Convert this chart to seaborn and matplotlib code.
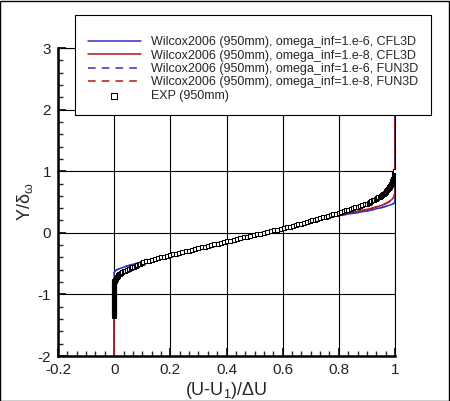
import numpy as np
import pandas as pd
import seaborn as sns
import matplotlib.pyplot as plt
from matplotlib.ticker import AutoMinorLocator
from matplotlib.patches import Rectangle


# omega_inf = 1.e-6 profile (CFL3D and FUN3D lie on top of each other)
blue_y = [-2.0, -0.65, -0.62, -0.60, -0.58, -0.56, -0.54, -0.52, -0.50, -0.48,
          -0.45, -0.42, -0.38, -0.34, -0.30, -0.25, -0.20, -0.15, -0.10, -0.05,
          0.00, 0.05, 0.10, 0.15, 0.20, 0.25, 0.28, 0.32, 0.35, 0.38,
          0.41, 0.44, 0.46, 0.48, 0.50, 3.0]
blue_u = [0.0, 0.0, 0.003, 0.010, 0.020, 0.033, 0.046, 0.060, 0.076, 0.093,
          0.122, 0.153, 0.195, 0.237, 0.280, 0.330, 0.380, 0.425, 0.465, 0.505,
          0.545, 0.590, 0.635, 0.680, 0.715, 0.765, 0.800, 0.855, 0.895, 0.925,
          0.952, 0.975, 0.988, 0.997, 1.0, 1.0]

# omega_inf = 1.e-8 profile
red_y = [-2.0, -0.78, -0.74, -0.70, -0.66, -0.62, -0.58, -0.54, -0.50, -0.46,
         -0.42, -0.38, -0.34, -0.30, -0.25, -0.20, -0.15, -0.10, -0.05, 0.00,
         0.05, 0.10, 0.15, 0.20, 0.25, 0.30, 0.35, 0.40, 0.45, 0.50,
         0.55, 0.60, 0.65, 3.0]
red_u = [0.0, 0.0, 0.004, 0.012, 0.025, 0.040, 0.058, 0.080, 0.105, 0.135,
         0.168, 0.202, 0.238, 0.275, 0.322, 0.370, 0.417, 0.462, 0.505, 0.548,
         0.592, 0.636, 0.680, 0.724, 0.768, 0.815, 0.870, 0.920, 0.955, 0.978,
         0.991, 0.997, 1.0, 1.0]

# experiment, 950mm station
exp_y = [-1.3500, -1.3375, -1.3250, -1.3125, -1.3000, -1.2875, -1.2750, -1.2625,
         -1.2500, -1.2375, -1.2250, -1.2125, -1.2000, -1.1875, -1.1750, -1.1625,
         -1.1500, -1.1375, -1.1250, -1.1125, -1.1000, -1.0875, -1.0750, -1.0625,
         -1.0500, -1.0375, -1.0250, -1.0125, -1.0000, -0.9875, -0.9750, -0.9625,
         -0.9500, -0.9375, -0.9250, -0.9125, -0.9000, -0.8875, -0.8750, -0.8625,
         -0.8500, -0.8375, -0.8250, -0.8125, -0.8000, -0.7875, -0.7750, -0.7625,
         -0.7500, -0.7375, -0.7250, -0.7125, -0.7000, -0.6875, -0.6750, -0.6625,
         -0.6500, -0.6375, -0.6250, -0.6125, -0.6000, -0.5875, -0.5750, -0.5625,
         -0.5500, -0.5375, -0.5250, -0.5125, -0.5000, -0.4875, -0.4750, -0.4625,
         -0.4500, -0.4375, -0.4250, -0.4125, -0.4000, -0.3875, -0.3750, -0.3625,
         -0.3500, -0.3375, -0.3250, -0.3125, -0.3000, -0.2875, -0.2750, -0.2625,
         -0.2500, -0.2375, -0.2250, -0.2125, -0.2000, -0.1875, -0.1750, -0.1625,
         -0.1500, -0.1375, -0.1250, -0.1125, -0.1000, -0.0875, -0.0750, -0.0625,
         -0.0500, -0.0375, -0.0250, -0.0125, 0.0000, 0.0125, 0.0250, 0.0375,
         0.0500, 0.0625, 0.0750, 0.0875, 0.1000, 0.1125, 0.1250, 0.1375,
         0.1500, 0.1625, 0.1750, 0.1875, 0.2000, 0.2125, 0.2250, 0.2375,
         0.2500, 0.2625, 0.2750, 0.2875, 0.3000, 0.3125, 0.3250, 0.3375,
         0.3500, 0.3625, 0.3750, 0.3875, 0.4000, 0.4125, 0.4250, 0.4375,
         0.4500, 0.4625, 0.4750, 0.4875, 0.5000, 0.5125, 0.5250, 0.5375,
         0.5500, 0.5625, 0.5750, 0.5875, 0.6000, 0.6125, 0.6250, 0.6375,
         0.6500, 0.6625, 0.6750, 0.6875, 0.7000, 0.7125, 0.7250, 0.7375,
         0.7500, 0.7625, 0.7750, 0.7875, 0.8000, 0.8125, 0.8250, 0.8375,
         0.8500, 0.8625, 0.8750, 0.8875, 0.9000, 0.9125, 0.9250, 0.9375,
         0.9500, 0.9625, 0.9750, 0.9875, 1.0000]
exp_u = [0.0, 0.0, 0.0, 0.0, 0.0, 0.0, 0.0, 0.0,
         0.0, 0.0, 0.0, 0.0, 0.0, 0.0, 0.0, 0.0,
         0.0, 0.0, 0.0, 0.0, 0.0, 0.0, 0.0, 0.0,
         0.0, 0.0, 0.0, 0.0, 0.0, 0.0, 0.0, 0.0,
         0.0, 0.0, 0.0, 0.0, 0.0, 0.0, 0.0, 0.0,
         0.0, 0.0, 0.0, 0.0, 0.0, 0.001, 0.002, 0.003,
         0.005, 0.007, 0.009, 0.011, 0.013, 0.015, 0.017, 0.020,
         0.024, 0.029, 0.034, 0.040, 0.046, 0.052, 0.059, 0.065,
         0.071, 0.076, 0.082, 0.087, 0.092, 0.098, 0.104, 0.114,
         0.124, 0.134, 0.145, 0.155, 0.166, 0.176, 0.187, 0.198,
         0.209, 0.220, 0.232, 0.243, 0.255, 0.266, 0.277, 0.289,
         0.300, 0.311, 0.323, 0.334, 0.345, 0.357, 0.368, 0.380,
         0.391, 0.402, 0.414, 0.425, 0.437, 0.449, 0.461, 0.473,
         0.485, 0.497, 0.509, 0.521, 0.533, 0.545, 0.557, 0.569,
         0.581, 0.593, 0.605, 0.616, 0.626, 0.636, 0.646, 0.656,
         0.666, 0.676, 0.686, 0.696, 0.705, 0.715, 0.724, 0.734,
         0.743, 0.753, 0.762, 0.772, 0.781, 0.791, 0.800, 0.809,
         0.817, 0.826, 0.834, 0.843, 0.851, 0.859, 0.867, 0.876,
         0.884, 0.892, 0.900, 0.906, 0.911, 0.916, 0.921, 0.926,
         0.931, 0.936, 0.940, 0.945, 0.950, 0.954, 0.958, 0.961,
         0.964, 0.967, 0.969, 0.971, 0.973, 0.975, 0.977, 0.979,
         0.981, 0.983, 0.985, 0.987, 0.988, 0.989, 0.990, 0.991,
         0.992, 0.993, 0.994, 0.995, 0.996, 0.996, 0.997, 0.997,
         0.998, 0.998, 0.999, 0.999, 1.000]

labels = ['Wilcox2006 (950mm), omega_inf=1.e-6, CFL3D',
          'Wilcox2006 (950mm), omega_inf=1.e-8, CFL3D',
          'Wilcox2006 (950mm), omega_inf=1.e-6, FUN3D',
          'Wilcox2006 (950mm), omega_inf=1.e-8, FUN3D',
          'EXP (950mm)']
xticks = [-0.2, 0, 0.2, 0.4, 0.6, 0.8, 1]
xtick_labels = ['-0.2', '0', '0.2', '0.4', '0.6', '0.8', '1']
yticks = [-2, -1, 0, 1, 2, 3]
ytick_labels = ['-2', '-1', '0', '1', '2', '3']

sns.set_style('white')
plt.rcParams['font.family'] = ['Liberation Sans', 'DejaVu Sans']
plt.rcParams['mathtext.fontset'] = 'custom'
plt.rcParams['mathtext.rm'] = 'Liberation Sans'
plt.rcParams['mathtext.it'] = 'Liberation Sans'

blue = '#3030c8'
red = '#b01818'

fig = plt.figure(figsize=(4.5, 4.01), dpi=100)
ax = fig.add_axes([58/450, 1-356/401, 337/450, 308/401])

sns.lineplot(x=blue_u, y=blue_y, sort=False, estimator=None, color=blue, lw=1.1,
             ax=ax, label=labels[0])
sns.lineplot(x=red_u, y=red_y, sort=False, estimator=None, color=red, lw=1.1,
             ax=ax, label=labels[1])
sns.lineplot(x=blue_u, y=blue_y, sort=False, estimator=None, color=blue, lw=1.1,
             ax=ax, label=labels[2], linestyle=(0, (5, 4)))
sns.lineplot(x=red_u, y=red_y, sort=False, estimator=None, color=red, lw=1.1,
             ax=ax, label=labels[3], linestyle=(0, (5, 4)))
sns.scatterplot(x=exp_u, y=exp_y, marker='s', s=8, facecolor='white',
                edgecolor='black', linewidth=0.75, ax=ax, label=labels[4], zorder=5)

ax.set_xlim(-0.2, 1)
ax.set_ylim(-2, 3)
ax.set_xticks(xticks)
ax.set_xticklabels(xtick_labels)
ax.set_yticks(yticks)
ax.set_yticklabels(ytick_labels)
ax.xaxis.set_minor_locator(AutoMinorLocator(6))
ax.yaxis.set_minor_locator(AutoMinorLocator(5))
ax.tick_params(which='major', direction='in', length=6, width=1.2, labelsize=11,
               pad=5, colors='black', labelcolor='#222222',
               bottom=True, left=True, top=False, right=False)
ax.tick_params(which='minor', direction='in', length=3.5, width=1,
               bottom=True, left=True, top=False, right=False)
ax.grid(True, which='major', color='black', lw=0.8)
ax.set_axisbelow(True)
for side in ['left', 'bottom']:
    ax.spines[side].set_linewidth(1.8)
    ax.spines[side].set_color('black')
for side in ['top', 'right']:
    ax.spines[side].set_linewidth(0.8)
    ax.spines[side].set_color('black')

ax.set_xlabel('(U-U$_1$)/ΔU', fontsize=13, labelpad=2)
ax.set_ylabel('Y/δ$_\\omega$', fontsize=13, labelpad=2)

handles, labs = ax.get_legend_handles_labels()
ax.get_legend().remove()
# an empty small title pushes the rows down a little, as in the original box
leg = fig.legend(handles, labs, loc='upper left', bbox_to_anchor=(75/450, 1-15/401),
                 fontsize=9, frameon=True, fancybox=False, shadow=False,
                 title=' ', title_fontsize=5,
                 handlelength=4.3, handletextpad=0.8, labelspacing=0.12,
                 borderpad=1.0, borderaxespad=0, markerscale=1.4)
leg.get_frame().set_edgecolor('black')
leg.get_frame().set_linewidth(0.8)
leg.get_frame().set_alpha(1)

# outer border of the picture
fig.patches.append(Rectangle((0.001, 0.001), 0.997, 0.997, transform=fig.transFigure,
                             fill=False, edgecolor='black', lw=1))

plt.savefig('out.png', dpi=100)
